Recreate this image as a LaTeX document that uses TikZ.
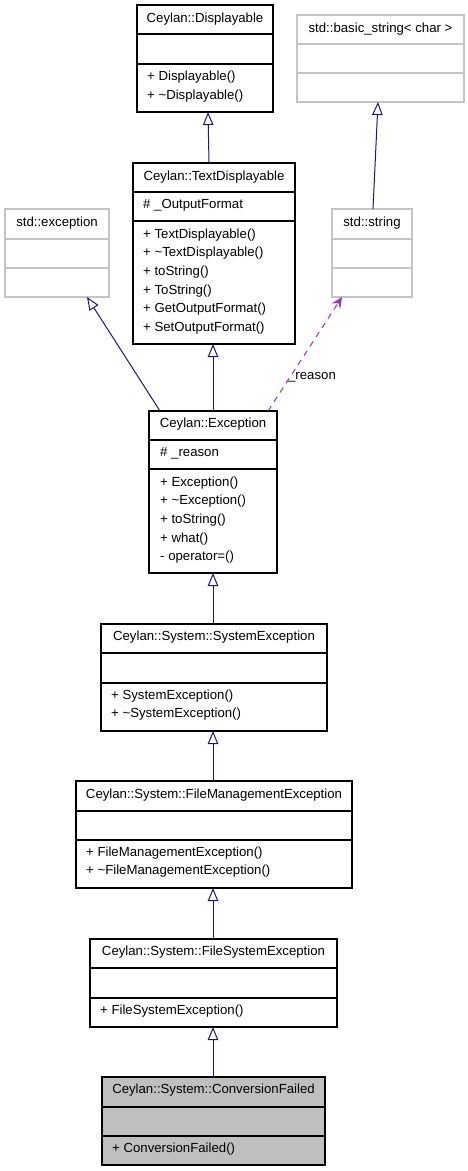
\documentclass[tikz,border=0pt]{standalone}
\usepackage{fontspec}
\setmainfont{Liberation Sans}
\usetikzlibrary{arrows.meta}
\definecolor{edgeblue}{HTML}{191970}
\definecolor{usepurple}{HTML}{9A32CD}
\definecolor{boxgray}{HTML}{BFBFBF}
\definecolor{linegray}{HTML}{C4C4C4}
\tikzset{
  txt/.style={font=\fontsize{13.2}{15}\selectfont, inner sep=0pt, text height=9.5pt, text depth=2.7pt},
  clsbox/.style={draw=black, line width=1.1pt, fill=white, inner sep=0pt, outer sep=0pt, anchor=north west},
  clsbox div/.style={draw=black, line width=1.1pt},
  extbox/.style={draw=linegray, line width=1.1pt, fill=white, inner sep=0pt, outer sep=0pt, anchor=north west},
  extbox div/.style={draw=linegray, line width=1.1pt},
  curbox/.style={draw=black, line width=1.1pt, fill=boxgray, inner sep=0pt, outer sep=0pt, anchor=north west},
  curbox div/.style={draw=black, line width=1.1pt},
  inh/.style={draw=edgeblue, line width=1pt, -{Triangle[open, length=13pt, width=10.5pt, fill=white]}},
  usage/.style={draw=usepurple, line width=1pt, dash pattern=on 6pt off 5pt, -{Stealth[length=11pt, width=10pt, inset=4pt]}},
}
% #1 name, #2 style, #3 x1, #4 x2, #5 y0, #6 y1, #7 y2, #8 y3
\newcommand\umlclass[8]{%
  \node[#2, minimum width={#4-#3}, minimum height={#8-#5}] (#1) at (#3,#5) {};
  \draw[#2 div] (#3,#6) -- (#4,#6) (#3,#7) -- (#4,#7);
}
% #1 name, #2 x, #3 y of first line centre, #4 list
\newcommand\umlmembers[4]{%
  \foreach \m [count=\i from 0] in {#4} {
    \node[txt, anchor=west] (#1-\i) at (#2, {#3+18.7*\i}) {\m};
  }
}
\begin{document}
\begin{tikzpicture}[x=1pt, y=-1pt]
\useasboundingbox[fill=white] (0,0) rectangle (468,1171);

% Ceylan::Displayable
\umlclass{disp}{clsbox}{137}{273}{5}{34}{64}{112}
\node[txt] (disp-t) at (205,19) {Ceylan::Displayable};
\umlmembers{disp-o}{147}{77}{+ Displayable(), + \textasciitilde Displayable()}

% std::basic_string< char >
\umlclass{bstr}{extbox}{297}{464}{15}{44}{73}{102}
\node[txt] (bstr-t) at (380.5,29) {std::basic\_string< char >};

% Ceylan::TextDisplayable
\umlclass{td}{clsbox}{133}{295}{163}{192}{221}{344}
\node[txt] (td-t) at (214,177) {Ceylan::TextDisplayable};
\umlmembers{td-a}{143}{205.5}{\# \_OutputFormat}
\umlmembers{td-o}{143}{234.7}{+ TextDisplayable(), + \textasciitilde TextDisplayable(), + toString(), + ToString(), + GetOutputFormat(), + SetOutputFormat()}

% std::exception
\umlclass{exc}{extbox}{5}{109}{209}{239}{268}{297}
\node[txt] (exc-t) at (57,223) {std::exception};

% std::string
\umlclass{str}{extbox}{332}{412}{209}{239}{268}{297}
\node[txt] (str-t) at (372,223) {std::string};

% Ceylan::Exception
\umlclass{cex}{clsbox}{149}{277}{411}{440}{469}{573}
\node[txt] (cex-t) at (213,424.5) {Ceylan::Exception};
\umlmembers{cex-a}{160}{453.5}{\# \_reason}
\umlmembers{cex-o}{160}{482.7}{+ Exception(), + \textasciitilde Exception(), + toString(), + what(), - operator=()}

% Ceylan::System::SystemException
\umlclass{sys}{clsbox}{101}{327}{624}{653}{683}{731}
\node[txt] (sys-t) at (214,637.5) {Ceylan::System::SystemException};
\umlmembers{sys-o}{111}{695.7}{+ SystemException(), + \textasciitilde SystemException()}

% Ceylan::System::FileManagementException
\umlclass{fme}{clsbox}{76}{352}{781}{811}{840}{888}
\node[txt] (fme-t) at (214,795) {Ceylan::System::FileManagementException};
\umlmembers{fme-o}{86}{852.7}{+ FileManagementException(), + \textasciitilde FileManagementException()}

% Ceylan::System::FileSystemException
\umlclass{fse}{clsbox}{90}{337}{939}{968}{998}{1027}
\node[txt] (fse-t) at (213.5,952.5) {Ceylan::System::FileSystemException};
\umlmembers{fse-o}{100}{1010.7}{+ FileSystemException()}

% Ceylan::System::ConversionFailed
\umlclass{cf}{curbox}{102}{325}{1077}{1107}{1136}{1165}
\node[txt] (cf-t) at (213.5,1090.5) {Ceylan::System::ConversionFailed};
\umlmembers{cf-o}{112}{1148.7}{+ ConversionFailed()}

% inheritance edges
\draw[inh] (td.north -| 209,0) -- (disp.south -| 208,0);
\draw[inh] (str.north -| 373,0) -- (bstr.south -| 378,0);
\draw[inh] (cex.north -| 213,0) -- (td.south -| 213,0);
\draw[inh] (cex.north -| 160,0) -- (exc.south -| 87,0);
\draw[inh] (sys.north -| 213,0) -- (cex.south -| 213,0);
\draw[inh] (fme.north -| 213,0) -- (sys.south -| 213,0);
\draw[inh] (fse.north -| 213,0) -- (fme.south -| 213,0);
\draw[inh] (cf.north -| 213,0) -- (fse.south -| 213,0);

% usage edge
\draw[usage] (cex.north -| 268,0) -- (str.south -| 342,0);
\node[txt] (lbl) at (312,376) {\_reason};
\end{tikzpicture}
\end{document}
